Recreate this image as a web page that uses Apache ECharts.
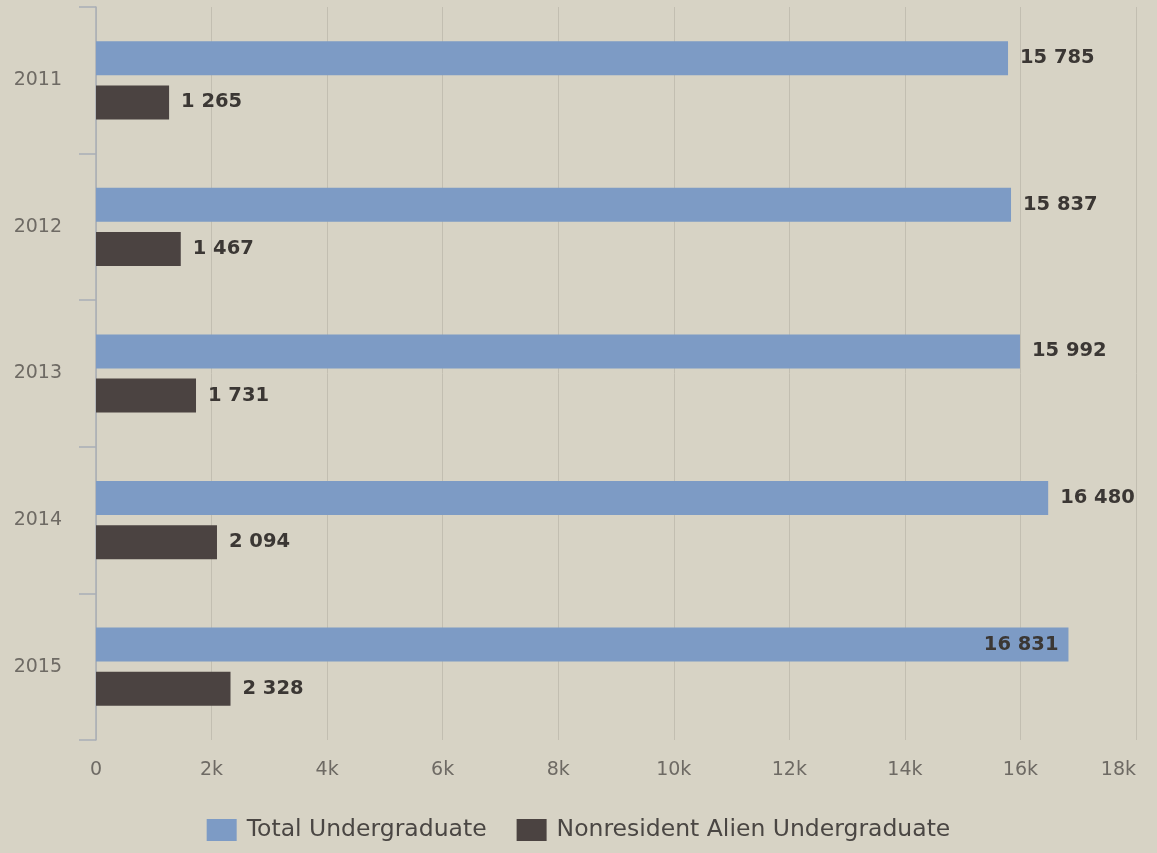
<!DOCTYPE html>
<html>
<head>
<meta charset="utf-8">
<script src="https://cdn.jsdelivr.net/npm/echarts@6/dist/echarts.min.js"></script>
<style>
html,body{margin:0;padding:0;background:#d7d3c5;}
#chart{width:1157px;height:853px;}
</style>
</head>
<body>
<div id="chart"></div>
<script>
const categories = ['2011', '2012', '2013', '2014', '2015'];
const totalUndergraduate = [15785, 15837, 15992, 16480, 16831];
const nonresidentAlien = [1265, 1467, 1731, 2094, 2328];
const seriesNames = ['Total Undergraduate', 'Nonresident Alien Undergraduate'];
const xTickLabels = ['0', '2k', '4k', '6k', '8k', '10k', '12k', '14k', '16k', '18k'];

const FONT = 'DejaVu Sans';
const fmt = v => String(v).replace(/\B(?=(\d{3})+(?!\d))/g, ' ');
const AXIS_MAX = 18000;

const chart = echarts.init(document.getElementById('chart'));
chart.setOption({
  backgroundColor: '#d7d3c5',
  animation: false,
  textStyle: { fontFamily: FONT },
  grid: { left: 96, right: 21, top: 7, bottom: 113, containLabel: false },
  legend: {
    bottom: 6,
    left: 'center',
    itemWidth: 30,
    itemHeight: 22,
    itemGap: 30,
    icon: 'rect',
    textStyle: { fontFamily: FONT, fontSize: 23.5, color: '#4a4643', padding: [0, 0, 0, 5] },
    data: seriesNames
  },
  xAxis: {
    type: 'value',
    min: 0,
    max: AXIS_MAX,
    interval: 2000,
    axisLine: { show: false },
    axisTick: { show: false },
    splitLine: { show: true, lineStyle: { color: '#c2beb1', width: 1 } },
    axisLabel: {
      fontFamily: FONT, fontSize: 19, color: '#6e6a64', margin: 21,
      alignMaxLabel: 'right',
      formatter: v => xTickLabels[Math.round(v / 2000)]
    }
  },
  yAxis: {
    type: 'category',
    inverse: true,
    data: categories,
    axisLine: { show: true, lineStyle: { color: '#a9aeb6', width: 1.5 } },
    axisTick: { show: true, length: 17, lineStyle: { color: '#a9aeb6', width: 1.5 } },
    axisLabel: { fontFamily: FONT, fontSize: 19, color: '#6e6a64', margin: 34 },
    splitLine: { show: false }
  },
  series: [
    {
      name: seriesNames[0],
      type: 'bar',
      barWidth: 34,
      barGap: '30%',
      itemStyle: { color: '#7d9bc5' },
      label: {
        show: true, position: 'right', distance: 12,
        fontFamily: FONT, fontWeight: 'bold', fontSize: 19.5, color: '#3b3734',
        formatter: p => fmt(p.value)
      },
      data: totalUndergraduate.map(v => v > AXIS_MAX * 0.92
        ? { value: v, label: { position: 'insideRight', distance: 10 } }
        : v)
    },
    {
      name: seriesNames[1],
      type: 'bar',
      barWidth: 34,
      barGap: '30%',
      itemStyle: { color: '#4b4341' },
      label: {
        show: true, position: 'right', distance: 12,
        fontFamily: FONT, fontWeight: 'bold', fontSize: 19.5, color: '#3b3734',
        formatter: p => fmt(p.value)
      },
      data: nonresidentAlien
    }
  ]
});
</script>
</body>
</html>
